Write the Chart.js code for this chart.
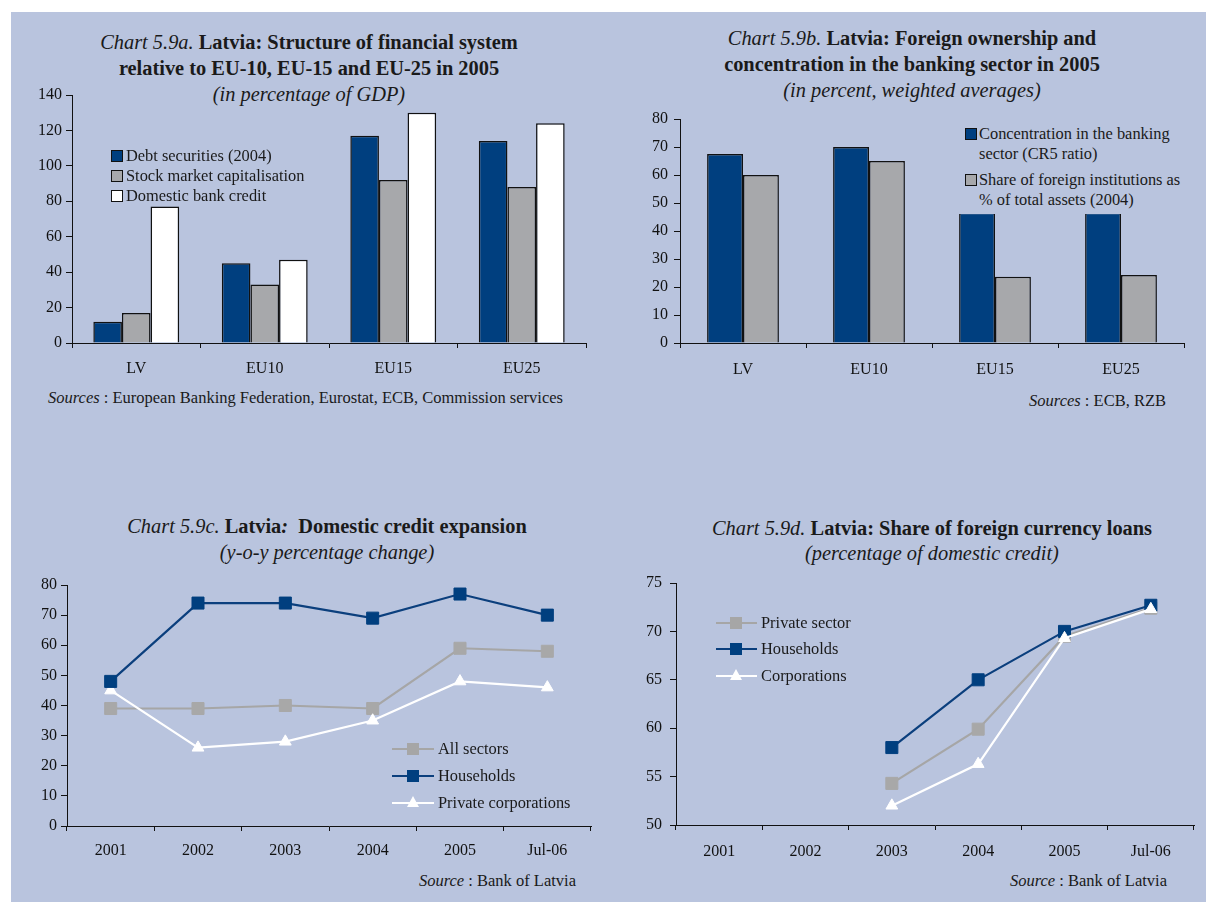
<!DOCTYPE html>
<html>
<head>
<meta charset="utf-8">
<script src="https://cdn.jsdelivr.net/npm/chart.js@4/dist/chart.umd.min.js"></script>
<style>
  html, body { margin:0; padding:0; background:#fff; width:1206px; height:902px; overflow:hidden; }
  body { position:relative; font-family:"Liberation Serif","Times New Roman",serif; color:#1a1a1a; }
  #bg { position:absolute; left:11px; top:12px; right:0; bottom:0; background:#b9c4de; }
  canvas { position:absolute; }
  .t { position:absolute; text-align:center; font-size:20.4px; line-height:26px; white-space:nowrap; }
  .t b { font-weight:bold; }
  .t i { font-style:italic; }
  .src { position:absolute; font-size:16.5px; line-height:20px; white-space:nowrap; }
  .lg { position:absolute; font-size:16.4px; line-height:20px; white-space:nowrap; }
  .sq { position:absolute; width:10px; height:10px; border:1px solid #111; }
  .ln { position:absolute; height:2px; }
  .msq { position:absolute; width:12px; height:12px; }
  .tri { position:absolute; width:0; height:0; border-left:6.5px solid transparent; border-right:6.5px solid transparent; border-bottom:11px solid #fff; }
</style>
</head>
<body>
<div id="bg"></div>

<!-- Panel a texts -->
<div class="t" style="left:9px;width:600px;top:29px;"><i>Chart 5.9a.</i> <b>Latvia: Structure of financial system</b><br><b>relative to EU-10, EU-15 and EU-25 in 2005</b><br><i>(in percentage of GDP)</i></div>
<div class="src" style="left:48px;top:388px;"><i>Sources</i> : European Banking Federation, Eurostat, ECB, Commission services</div>

<!-- Panel b texts -->
<div class="t" style="left:612px;width:600px;top:25px;"><i>Chart 5.9b.</i> <b>Latvia: Foreign ownership and</b><br><b>concentration in the banking sector in 2005</b><br><i>(in percent, weighted averages)</i></div>
<div class="src" style="right:40px;top:391px;"><i>Sources</i> : ECB, RZB</div>

<!-- Panel c texts -->
<div class="t" style="left:27px;width:600px;top:513px;"><i>Chart 5.9c.</i> <b>Latvia<i>:</i>&nbsp; Domestic credit expansion</b><br><i>(y-o-y percentage change)</i></div>
<div class="src" style="right:630px;top:871px;"><i>Source</i> : Bank of Latvia</div>

<!-- Panel d texts -->
<div class="t" style="left:632px;width:600px;top:516px;line-height:25px;"><i>Chart 5.9d.</i> <b>Latvia: Share of foreign currency loans</b><br><i>(percentage of domestic credit)</i></div>
<div class="src" style="right:39px;top:871px;"><i>Source</i> : Bank of Latvia</div>

<canvas id="ca" width="595" height="310" style="left:11px;top:80px;width:595px;height:310px;"></canvas>
<canvas id="cb" width="600" height="290" style="left:606px;top:100px;width:600px;height:290px;"></canvas>
<canvas id="cc" width="595" height="310" style="left:11px;top:565px;width:595px;height:310px;"></canvas>
<canvas id="cd" width="600" height="310" style="left:606px;top:565px;width:600px;height:310px;"></canvas>

<!-- Legend a -->
<div class="sq" style="left:111px;top:150px;background:#003f7f;"></div>
<div class="lg" style="left:126px;top:146px;">Debt securities (2004)</div>
<div class="sq" style="left:111px;top:170px;background:#a7a8ab;"></div>
<div class="lg" style="left:126px;top:166px;">Stock market capitalisation</div>
<div class="sq" style="left:111px;top:190px;background:#fff;"></div>
<div class="lg" style="left:126px;top:186px;">Domestic bank credit</div>

<!-- Legend b (opaque box, covers bars behind it) -->
<div style="position:absolute;left:955px;top:112px;width:235px;height:102px;background:#b9c4de;"></div>
<div class="sq" style="left:965px;top:128px;background:#003f7f;"></div>
<div class="lg" style="left:979px;top:124px;line-height:20px;">Concentration in the banking<br>sector (CR5 ratio)</div>
<div class="sq" style="left:965px;top:174px;background:#a7a8ab;"></div>
<div class="lg" style="left:979px;top:170px;line-height:20px;">Share of foreign institutions as<br>% of total assets (2004)</div>

<!-- Legend c -->
<div class="ln" style="left:392px;top:748px;width:42px;background:#a6a6a6;"></div>
<div class="msq" style="left:407px;top:743px;background:#a6a6a6;"></div>
<div class="lg" style="left:438px;top:739px;">All sectors</div>
<div class="ln" style="left:392px;top:775px;width:42px;background:#0b3f7d;"></div>
<div class="msq" style="left:407px;top:770px;background:#003f7f;"></div>
<div class="lg" style="left:438px;top:766px;">Households</div>
<div class="ln" style="left:392px;top:802px;width:42px;background:#fff;"></div>
<div class="tri" style="left:406.5px;top:796px;"></div>
<div class="lg" style="left:438px;top:793px;">Private corporations</div>

<!-- Legend d -->
<div class="ln" style="left:716px;top:622px;width:41px;background:#a6a6a6;"></div>
<div class="msq" style="left:730px;top:617px;background:#a6a6a6;"></div>
<div class="lg" style="left:761px;top:613px;">Private sector</div>
<div class="ln" style="left:716px;top:648px;width:41px;background:#0b3f7d;"></div>
<div class="msq" style="left:730px;top:643px;background:#003f7f;"></div>
<div class="lg" style="left:761px;top:639px;">Households</div>
<div class="ln" style="left:716px;top:675px;width:41px;background:#fff;"></div>
<div class="tri" style="left:729.5px;top:669px;"></div>
<div class="lg" style="left:761px;top:666px;">Corporations</div>

<script>
// ---------- DATA ----------
const catsAB = ['LV', 'EU10', 'EU15', 'EU25'];
const debtSecurities = [12, 45, 117, 114];
const stockMarketCap = [17, 33, 92, 88];
const domesticBankCredit = [77, 47, 130, 124];

const concentrationCR5 = [67.5, 70, 46.5, 46.5];
const foreignShare = [60, 65, 23.7, 24.3];

const catsCD = ['2001', '2002', '2003', '2004', '2005', 'Jul-06'];
const allSectors = [39, 39, 40, 39, 59, 58];
const householdsC = [48, 74, 74, 69, 77, 70];
const privateCorps = [45, 26, 28, 35, 48, 46];

const privateSector = [null, null, 54.3, 59.9, 69.5, 72.4];
const householdsD = [null, null, 58, 65, 70, 72.7];
const corporations = [null, null, 52, 56.3, 69.3, 72.3];

// ---------- STYLE ----------
const NAVY = '#003f7f', NAVYLINE = '#0b3f7d', GREY = '#a7a8ab', GREYLINE = '#a6a6a6', WHITE = '#ffffff', INK = '#111111';
const FONT = 'Liberation Serif';

function axes(o) {
  return {
    x: {
      type: 'category', offset: true,
      grid: { display: true, drawOnChartArea: false, drawTicks: true, tickLength: 5, color: INK, lineWidth: 1, offset: true },
      border: { display: true, color: INK, width: 1 },
      ticks: { color: INK, font: { family: FONT, size: 16 }, padding: o.xpad, maxRotation: 0, autoSkip: false },
      afterFit: s => { s.height = o.xh; }
    },
    y: {
      min: o.min, max: o.max,
      grid: { display: true, drawOnChartArea: false, drawTicks: true, tickLength: 6, color: INK, lineWidth: 1 },
      border: { display: true, color: INK, width: 1 },
      ticks: { stepSize: o.step, color: INK, font: { family: FONT, size: 16 }, padding: o.ypad },
      afterFit: s => { s.width = o.yw; }
    }
  };
}
const base = (o) => ({
  responsive: false, animation: false, devicePixelRatio: 1,
  layout: { padding: { top: o.pt, right: o.pr, left: 0, bottom: 0 } },
  plugins: { legend: { display: false }, tooltip: { enabled: false } },
  scales: axes(o)
});

// Panel a
new Chart(document.getElementById('ca'), {
  type: 'bar',
  data: { labels: catsAB, datasets: [
    { data: debtSecurities, backgroundColor: NAVY, borderColor: INK, borderWidth: 1.5, borderSkipped: 'bottom' },
    { data: stockMarketCap, backgroundColor: GREY, borderColor: INK, borderWidth: 1.5, borderSkipped: 'bottom' },
    { data: domesticBankCredit, backgroundColor: WHITE, borderColor: INK, borderWidth: 1.5, borderSkipped: 'bottom' }
  ]},
  options: Object.assign(base({ pt: 15, pr: 20, xh: 47, yw: 61, min: 0, max: 140, step: 20, xpad: 11, ypad: 4 }), {
    datasets: { bar: { categoryPercentage: 0.668, barPercentage: 1 } }
  })
});

// Panel b
new Chart(document.getElementById('cb'), {
  type: 'bar',
  data: { labels: catsAB, datasets: [
    { data: concentrationCR5, backgroundColor: NAVY, borderColor: INK, borderWidth: 1.5, borderSkipped: 'bottom' },
    { data: foreignShare, backgroundColor: GREY, borderColor: INK, borderWidth: 1.5, borderSkipped: 'bottom' }
  ]},
  options: Object.assign(base({ pt: 19, pr: 22, xh: 47, yw: 74, min: 0, max: 80, step: 10, xpad: 12, ypad: 6 }), {
    datasets: { bar: { categoryPercentage: 0.57, barPercentage: 1 } }
  })
});

function lineDS(data, color, lineColor, style, order, radius) {
  return { data, borderColor: lineColor, backgroundColor: color, pointBackgroundColor: color, pointBorderColor: color,
    borderWidth: 2.2, pointStyle: style, pointRadius: radius, pointBorderWidth: 1, tension: 0, order, spanGaps: false };
}

// Panel c
new Chart(document.getElementById('cc'), {
  type: 'line',
  data: { labels: catsCD, datasets: [
    lineDS(allSectors, '#a8a8a8', GREYLINE, 'rect', 3, 8.5),
    lineDS(householdsC, NAVY, NAVYLINE, 'rect', 1, 8.5),
    lineDS(privateCorps, WHITE, WHITE, 'triangle', 2, 6.8)
  ]},
  options: base({ pt: 20, pr: 15, xh: 49, yw: 56, min: 0, max: 80, step: 10, xpad: 10, ypad: 4 })
});

// Panel d
new Chart(document.getElementById('cd'), {
  type: 'line',
  data: { labels: catsCD, datasets: [
    lineDS(privateSector, '#a8a8a8', GREYLINE, 'rect', 3, 8.5),
    lineDS(householdsD, NAVY, NAVYLINE, 'rect', 2, 8.5),
    lineDS(corporations, WHITE, WHITE, 'triangle', 1, 6.8)
  ]},
  options: base({ pt: 18, pr: 12, xh: 50, yw: 70, min: 50, max: 75, step: 5, xpad: 12, ypad: 8 })
});
</script>
</body>
</html>
